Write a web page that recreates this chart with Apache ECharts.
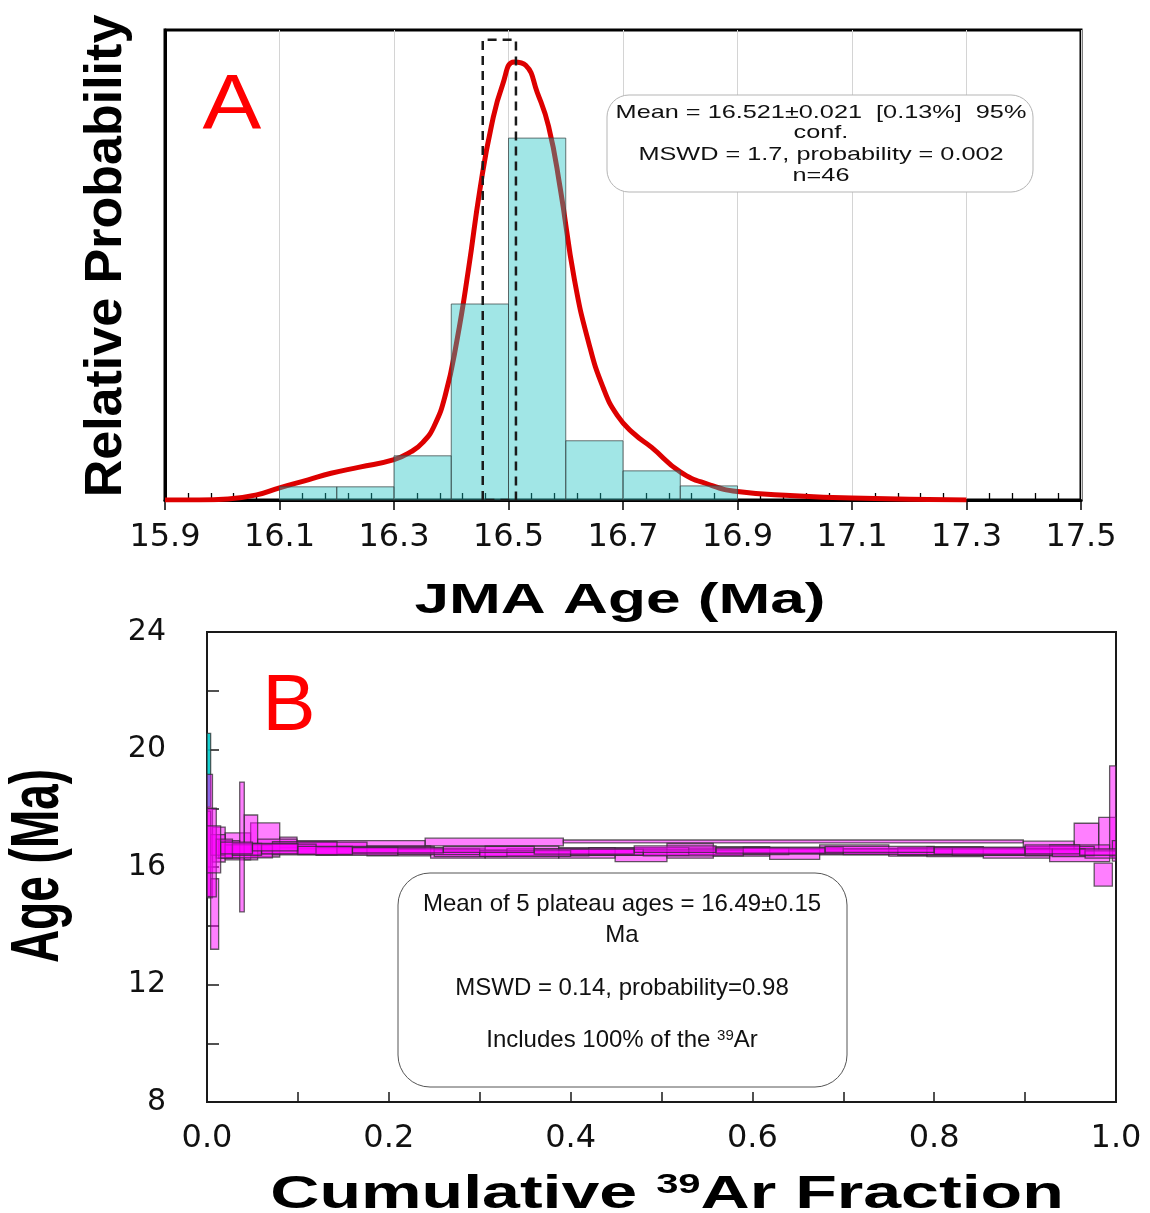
<!DOCTYPE html>
<html><head><meta charset="utf-8">
<script src="https://cdn.jsdelivr.net/npm/echarts@6/dist/echarts.min.js"></script>
<style>html,body{margin:0;padding:0;background:#fff}#c{width:1150px;height:1213px}</style>
</head><body><div id="c"></div>
<script>
// ---------- Panel A data ----------
const xTicksA = ['15.9','16.1','16.3','16.5','16.7','16.9','17.1','17.3','17.5'];
const binStarts = [16.1, 16.2, 16.3, 16.4, 16.5, 16.6, 16.7, 16.8];
const binEnds   = [16.2, 16.3, 16.4, 16.5, 16.6, 16.7, 16.8, 16.9];
const binHeights = [0.028, 0.028, 0.094, 0.417, 0.770, 0.126, 0.062, 0.030];
const pdfAges = [15.90, 15.96, 16.01, 16.06, 16.10, 16.15, 16.19, 16.24, 16.30, 16.33, 16.35, 16.37, 16.39, 16.41, 16.43, 16.45, 16.47, 16.49, 16.51, 16.53, 16.55, 16.57, 16.59, 16.615, 16.64, 16.665, 16.69, 16.72, 16.75, 16.80, 16.85, 16.90, 17.00, 17.10, 17.30];
const pdfValues = [0.000, 0.000, 0.002, 0.011, 0.026, 0.043, 0.057, 0.070, 0.086, 0.103, 0.122, 0.157, 0.225, 0.340, 0.490, 0.660, 0.795, 0.885, 0.932, 0.925, 0.868, 0.795, 0.666, 0.470, 0.335, 0.240, 0.180, 0.140, 0.112, 0.060, 0.033, 0.018, 0.009, 0.004, 0.000];
const meanWindow = [16.455, 16.513];
const meanWindowTop = 0.979;

// ---------- Panel B data ----------
const xTicksB = ['0.0','0.2','0.4','0.6','0.8','1.0'];
const yTicksB = ['8','12','16','20','24'];
// [fraction start, fraction end, age low, age high]
const excludedSteps = [[0.000, 0.004, 18.05, 20.55]];
const sample1 = [
  [0.000, 0.006, 14.95, 19.15], [0.006, 0.020, 16.17, 17.36], [0.020, 0.048, 16.24, 17.16],
  [0.048, 0.080, 16.34, 17.50], [0.080, 0.099, 16.65, 17.02], [0.099, 0.240, 16.62, 16.90],
  [0.240, 0.392, 16.72, 16.98], [0.392, 0.898, 16.82, 16.92], [0.898, 0.954, 16.58, 16.88],
  [0.954, 0.981, 16.58, 17.49], [0.981, 1.000, 16.58, 17.69]
];
const sample2 = [
  [0.004, 0.0128, 13.20, 15.60], [0.0128, 0.036, 16.30, 16.90], [0.036, 0.041, 14.47, 18.89],
  [0.041, 0.0557, 16.24, 17.77], [0.0557, 0.099, 16.45, 16.95], [0.099, 0.176, 16.45, 16.85],
  [0.176, 0.246, 16.38, 16.72], [0.246, 0.306, 16.30, 16.64], [0.306, 0.387, 16.30, 16.71],
  [0.387, 0.449, 16.30, 16.66], [0.449, 0.506, 16.18, 16.64], [0.506, 0.557, 16.30, 16.80],
  [0.557, 0.619, 16.37, 16.69], [0.619, 0.674, 16.26, 16.60], [0.674, 0.750, 16.41, 16.75],
  [0.750, 0.792, 16.37, 16.64], [0.792, 0.854, 16.35, 16.69], [0.854, 0.927, 16.30, 16.64],
  [0.927, 0.993, 16.18, 16.75], [0.993, 1.000, 16.35, 19.44]
];
const sample3 = [
  [0.000, 0.004, 15.00, 17.90], [0.004, 0.020, 16.40, 17.10], [0.020, 0.072, 16.31, 16.75],
  [0.072, 0.143, 16.41, 16.86], [0.143, 0.250, 16.45, 16.70], [0.250, 0.330, 16.35, 16.58],
  [0.330, 0.420, 16.38, 16.62], [0.420, 0.530, 16.40, 16.66], [0.530, 0.640, 16.42, 16.64],
  [0.640, 0.760, 16.45, 16.62], [0.760, 0.900, 16.40, 16.66], [0.900, 0.976, 16.38, 16.70],
  [0.976, 0.996, 15.35, 16.13], [0.996, 1.000, 16.20, 16.90]
];
const sample4 = [
  [0.000, 0.0102, 14.98, 18.00], [0.0102, 0.028, 16.30, 16.95], [0.028, 0.060, 16.40, 16.80],
  [0.060, 0.120, 16.45, 16.78], [0.120, 0.210, 16.40, 16.68], [0.210, 0.300, 16.42, 16.62],
  [0.300, 0.400, 16.36, 16.56], [0.400, 0.480, 16.40, 16.60], [0.480, 0.590, 16.38, 16.58],
  [0.590, 0.700, 16.45, 16.68], [0.700, 0.820, 16.42, 16.62], [0.820, 0.930, 16.40, 16.62],
  [0.930, 0.966, 16.35, 16.62], [0.966, 1.000, 16.30, 16.55]
];
const sample5 = [
  [0.000, 0.015, 15.80, 17.40], [0.015, 0.050, 16.45, 16.85], [0.050, 0.100, 16.55, 16.80],
  [0.100, 0.160, 16.42, 16.70], [0.160, 0.260, 16.48, 16.66], [0.260, 0.360, 16.50, 16.70],
  [0.360, 0.470, 16.44, 16.62], [0.470, 0.560, 16.50, 16.72], [0.560, 0.680, 16.47, 16.65],
  [0.680, 0.800, 16.50, 16.70], [0.800, 0.900, 16.44, 16.68], [0.900, 0.960, 16.45, 16.75],
  [0.960, 1.000, 16.40, 16.62]
];

// ---------- chart ----------
const FONT = '"Liberation Sans", Arial, sans-serif';
const TICKFONT = '"DejaVu Sans", sans-serif';
const chart = echarts.init(document.getElementById('c'), null, {renderer: 'canvas'});

const histData = binStarts.map((s, i) => [s, binEnds[i], binHeights[i]]);
const pdfData = pdfAges.map((a, i) => [a, pdfValues[i]]);
const boxData = [[meanWindow[0], 0], [meanWindow[0], meanWindowTop], [meanWindow[1], meanWindowTop], [meanWindow[1], 0], [meanWindow[0], 0]];

function histItem(params, api) {
  const a = api.coord([api.value(0), api.value(2)]);
  const b = api.coord([api.value(1), 0]);
  return {type: 'rect', shape: {x: a[0], y: a[1], width: b[0] - a[0], height: b[1] - a[1]},
    style: {fill: 'rgba(20,192,192,0.4)', stroke: 'rgba(60,70,70,0.75)', lineWidth: 1}};
}
function stepItem(fill) {
  return function (params, api) {
    const a = api.coord([api.value(0), api.value(3)]);
    const b = api.coord([api.value(1), api.value(2)]);
    return {type: 'rect', shape: {x: a[0], y: a[1], width: b[0] - a[0], height: b[1] - a[1]},
      style: {fill: fill, stroke: 'rgba(45,45,45,0.75)', lineWidth: 1.3}};
  };
}
const magenta = 'rgba(255,0,255,0.5)';
const sampleSeries = [sample1, sample2, sample3, sample4, sample5].map((s, i) => ({
  name: 'Sample ' + (i + 1), type: 'custom', xAxisIndex: 1, yAxisIndex: 1, z: 3,
  renderItem: stepItem(magenta), encode: {x: [0, 1], y: [2, 3]}, data: s
}));

chart.setOption({
  animation: false,
  backgroundColor: '#fff',
  grid: [
    {left: 165, top: 30, width: 916, height: 470, show: true, borderColor: '#000', borderWidth: 3, backgroundColor: 'transparent'},
    {left: 207, top: 632, width: 909, height: 470, show: true, borderColor: '#1a1a1a', borderWidth: 2, backgroundColor: 'transparent'}
  ],
  xAxis: [
    {type: 'value', gridIndex: 0, min: 15.9, max: 17.5, interval: 0.2,
     axisLine: {show: true, lineStyle: {color: '#000', width: 3}},
     axisTick: {show: true, inside: false, length: 10, lineStyle: {color: '#000', width: 1.5}},
     minorTick: {show: true, splitNumber: 5, length: -7, lineStyle: {color: '#000', width: 1.3}},
     splitLine: {show: true, lineStyle: {color: '#d4d4d4', width: 1}},
     axisLabel: {margin: 22, fontFamily: TICKFONT, fontSize: 32, color: '#111',
       formatter: v => { const s = v.toFixed(1); return xTicksA.includes(s) ? s : ''; }}},
    {type: 'value', gridIndex: 1, min: 0, max: 1, interval: 0.1,
     axisLine: {show: true, lineStyle: {color: '#1a1a1a', width: 2}},
     axisTick: {show: true, inside: true, length: 10, lineStyle: {color: '#1a1a1a', width: 1.5}},
     splitLine: {show: false},
     axisLabel: {margin: 21, fontFamily: TICKFONT, fontSize: 32, color: '#111',
       formatter: v => { const s = v.toFixed(1); return xTicksB.includes(s) ? s : ''; }}}
  ],
  yAxis: [
    {type: 'value', gridIndex: 0, min: 0, max: 1,
     axisLine: {show: true, lineStyle: {color: '#000', width: 3}},
     axisTick: {show: false}, axisLabel: {show: false}, splitLine: {show: false}},
    {type: 'value', gridIndex: 1, min: 8, max: 24, interval: 2,
     axisLine: {show: true, lineStyle: {color: '#1a1a1a', width: 2}},
     axisTick: {show: true, inside: true, length: 12, lineStyle: {color: '#1a1a1a', width: 1.5}},
     splitLine: {show: false},
     axisLabel: {margin: 41, fontFamily: TICKFONT, fontSize: 30, color: '#111',
       formatter: v => { const s = String(Math.round(v)); return yTicksB.includes(s) ? s : ''; }}}
  ],
  series: [
    {name: 'Probability density', type: 'line', xAxisIndex: 0, yAxisIndex: 0, z: 2,
     data: pdfData, smooth: 0.5, showSymbol: false, lineStyle: {color: '#dd0000', width: 5}},
    {name: 'Histogram', type: 'custom', xAxisIndex: 0, yAxisIndex: 0, z: 3,
     renderItem: histItem, encode: {x: [0, 1], y: 2}, data: histData},
    {name: 'Mean window', type: 'line', xAxisIndex: 0, yAxisIndex: 0, z: 4,
     data: boxData, showSymbol: false, lineStyle: {color: '#1a1a1a', width: 2.5, type: [9, 6]}},
    {name: 'Excluded step', type: 'custom', xAxisIndex: 1, yAxisIndex: 1, z: 3,
     renderItem: stepItem('rgba(0,205,205,0.9)'), encode: {x: [0, 1], y: [2, 3]}, data: excludedSteps}
  ].concat(sampleSeries),
  graphic: [
    // axis titles
    {type: 'text', x: 107, y: 256, rotation: Math.PI / 2, z: 10,
     style: {text: 'Relative Probability', fontFamily: FONT, fontWeight: 'bold', fontSize: 52, fill: '#000', align: 'center', verticalAlign: 'middle'}},
    {type: 'text', x: 620, y: 601, scaleX: 1.48, z: 10,
     style: {text: 'JMA Age (Ma)', fontFamily: FONT, fontWeight: 'bold', fontSize: 42, fill: '#000', align: 'center', verticalAlign: 'middle'}},
    {type: 'text', x: 39, y: 866, rotation: Math.PI / 2, scaleY: 1.47, z: 10,
     style: {text: 'Age (Ma)', fontFamily: FONT, fontWeight: 'bold', fontSize: 46, fill: '#000', align: 'center', verticalAlign: 'middle'}},
    {type: 'text', x: 667, y: 1195, scaleX: 1.48, z: 10,
     style: {text: '{a|Cumulative }{s|39}{a|Ar Fraction}', align: 'center', verticalAlign: 'middle', fill: '#000',
       rich: {a: {fontFamily: FONT, fontWeight: 'bold', fontSize: 46, fill: '#000'},
              s: {fontFamily: FONT, fontWeight: 'bold', fontSize: 27, fill: '#000', verticalAlign: 'top'}}}},
    // panel letters
    {type: 'text', x: 232, y: 107, scaleX: 1.13, z: 10,
     style: {text: 'A', fontFamily: FONT, fontSize: 78, fill: '#ff0000', align: 'center', verticalAlign: 'middle'}},
    {type: 'text', x: 289, y: 708, z: 10,
     style: {text: 'B', fontFamily: FONT, fontSize: 80, fill: '#ff0000', align: 'center', verticalAlign: 'middle'}},
    // panel A stats box
    {type: 'rect', z: 9, shape: {x: 607, y: 95, width: 426, height: 97, r: 22},
     style: {fill: '#fff', stroke: '#b5b5b5', lineWidth: 1}},
    {type: 'text', x: 821, y: 113, scaleX: 1.33, z: 10,
     style: {text: 'Mean = 16.521±0.021  [0.13%]  95%', fontFamily: FONT, fontSize: 19, fill: '#111', align: 'center', verticalAlign: 'middle'}},
    {type: 'text', x: 821, y: 133, scaleX: 1.33, z: 10,
     style: {text: 'conf.', fontFamily: FONT, fontSize: 19, fill: '#111', align: 'center', verticalAlign: 'middle'}},
    {type: 'text', x: 821, y: 155, scaleX: 1.33, z: 10,
     style: {text: 'MSWD = 1.7, probability = 0.002', fontFamily: FONT, fontSize: 19, fill: '#111', align: 'center', verticalAlign: 'middle'}},
    {type: 'text', x: 821, y: 176, scaleX: 1.33, z: 10,
     style: {text: 'n=46', fontFamily: FONT, fontSize: 19, fill: '#111', align: 'center', verticalAlign: 'middle'}},
    // panel B stats box
    {type: 'rect', z: 9, shape: {x: 398, y: 873, width: 449, height: 214, r: 32},
     style: {fill: '#fff', stroke: '#555', lineWidth: 1}},
    {type: 'text', x: 622, y: 904, z: 10,
     style: {text: 'Mean of 5 plateau ages = 16.49±0.15', fontFamily: FONT, fontSize: 24, fill: '#111', align: 'center', verticalAlign: 'middle'}},
    {type: 'text', x: 622, y: 935, z: 10,
     style: {text: 'Ma', fontFamily: FONT, fontSize: 24, fill: '#111', align: 'center', verticalAlign: 'middle'}},
    {type: 'text', x: 622, y: 988, z: 10,
     style: {text: 'MSWD = 0.14, probability=0.98', fontFamily: FONT, fontSize: 24, fill: '#111', align: 'center', verticalAlign: 'middle'}},
    {type: 'text', x: 622, y: 1040, z: 10,
     style: {text: '{a|Includes 100% of the }{s|39}{a|Ar}', align: 'center', verticalAlign: 'middle', fill: '#111',
       rich: {a: {fontFamily: FONT, fontSize: 24, fill: '#111'}, s: {fontFamily: FONT, fontSize: 15, fill: '#111', verticalAlign: 'top'}}}}
  ]
});
</script></body></html>
